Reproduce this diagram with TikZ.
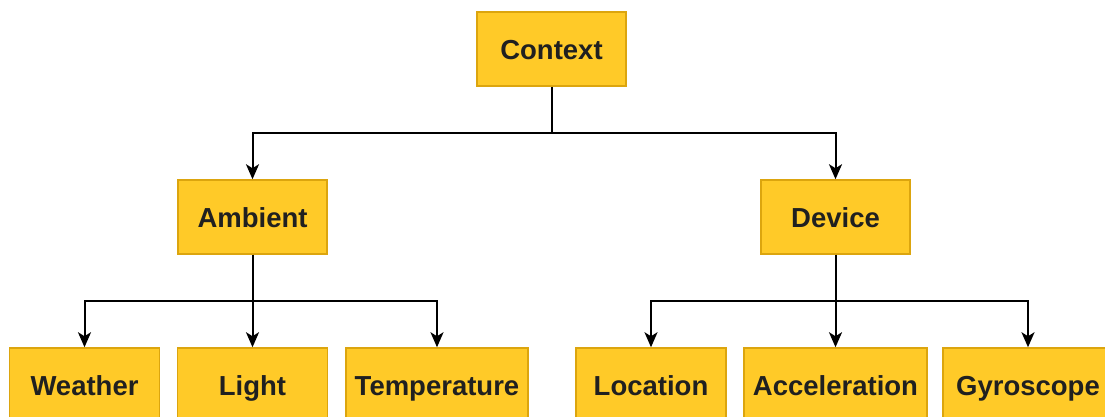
\documentclass[tikz,border=0pt]{standalone}
\usepackage{fontspec}
\setmainfont{Liberation Sans}
\usetikzlibrary{arrows.meta}
\definecolor{boxfill}{HTML}{FFCA28}
\definecolor{boxline}{HTML}{DCA50E}
\definecolor{boxtext}{HTML}{202020}
\tikzset{
  box/.style={draw=boxline, fill=boxfill, line width=1.5pt, minimum height=74pt,
    inner sep=0pt, text height=20pt, text depth=0pt, text=boxtext,
    font=\fontsize{27.5}{31}\selectfont\bfseries},
  link/.style={draw=black, line width=2pt,
    -{Stealth[length=15pt,width=13pt,inset=4pt]}}
}
\begin{document}
\begin{tikzpicture}[x=1pt,y=-1pt]
  \useasboundingbox (0,0) rectangle (1105,416);
  \clip (0,0) rectangle (1105,416);
  % root
  \node[box, minimum width=149pt] (ctx) at (551.5,49) {Context};
  % second level
  \node[box, minimum width=149pt] (amb) at (252.5,217) {Ambient};
  \node[box, minimum width=149pt] (dev) at (835.5,217) {Device};
  % leaves
  \node[box, minimum width=150pt] (wea) at (84.5,385) {Weather};
  \node[box, minimum width=150pt] (lig) at (252.5,385) {Light};
  \node[box, minimum width=182pt] (tem) at (437,385) {Temperature};
  \node[box, minimum width=150pt] (loc) at (651,385) {Location};
  \node[box, minimum width=183pt] (acc) at (835.5,385) {Acceleration};
  \node[box, minimum width=170pt] (gyr) at (1028,385) {Gyroscope};
  % bus levels
  \coordinate (bus1) at (0,133);
  \coordinate (bus2) at (0,301);
  % connectors
  \draw[link] (ctx.south) -- (ctx.south |- bus1) -| (amb.north);
  \draw[link] (ctx.south) -- (ctx.south |- bus1) -| (dev.north);
  \draw[link] (amb.south) -- (amb.south |- bus2) -| (wea.north);
  \draw[link] (amb.south) -- (lig.north);
  \draw[link] (amb.south) -- (amb.south |- bus2) -| (tem.north);
  \draw[link] (dev.south) -- (dev.south |- bus2) -| (loc.north);
  \draw[link] (dev.south) -- (acc.north);
  \draw[link] (dev.south) -- (dev.south |- bus2) -| (gyr.north);
\end{tikzpicture}
\end{document}
